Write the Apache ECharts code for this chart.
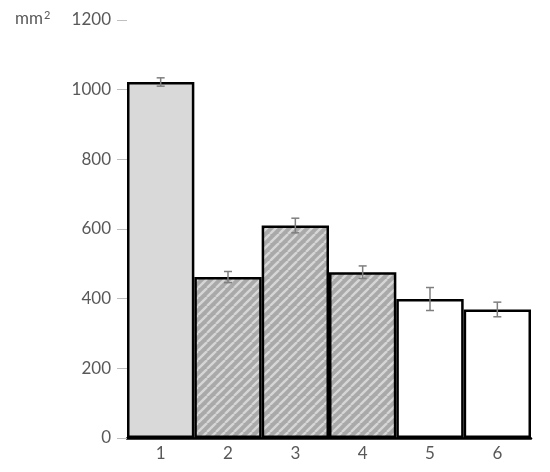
<!DOCTYPE html>
<html>
<head>
<meta charset="utf-8">
<script src="https://cdn.jsdelivr.net/npm/echarts@6/dist/echarts.min.js"></script>
<style>html,body{margin:0;padding:0;background:#fff}#c{width:550px;height:472px}</style>
</head>
<body>
<div id="c"></div>
<script>
const categories = ['1', '2', '3', '4', '5', '6'];
const values = [1022, 462, 610, 476, 399, 369];
const errors = [12, 16, 21, 18, 33, 21];
const fillKinds = ['solid', 'hatch', 'hatch', 'hatch', 'white', 'white'];
const yTicks = [0, 200, 400, 600, 800, 1000, 1200];

function hatchPattern() {
  const s = 9;
  const c = document.createElement('canvas');
  c.width = s; c.height = s;
  const g = c.getContext('2d');
  g.fillStyle = '#a9a9a9';
  g.fillRect(0, 0, s, s);
  g.strokeStyle = '#d6d6d6';
  g.lineWidth = 2.4;
  for (let k = -1; k <= 1; k++) {
    g.beginPath();
    g.moveTo(k * s, s);
    g.lineTo(k * s + s, 0);
    g.stroke();
  }
  return c;
}
const hatch = { image: hatchPattern(), repeat: 'repeat' };
const fills = { solid: '#d9d9d9', hatch: hatch, white: '#ffffff' };

const chart = echarts.init(document.getElementById('c'), null, { renderer: 'canvas' });
const font = 'Lato, "Open Sans", sans-serif';
chart.setOption({
  animation: false,
  grid: { left: 127, right: 19, top: 20, bottom: 34 },
  xAxis: {
    type: 'category',
    data: categories,
    axisLine: { lineStyle: { color: '#000', width: 2.5 } },
    axisTick: { show: false },
    axisLabel: { color: '#595959', fontSize: 17, fontFamily: font, margin: 7 }
  },
  yAxis: {
    type: 'value',
    min: yTicks[0], max: yTicks[yTicks.length - 1], interval: 200,
    axisLine: { show: false },
    axisTick: { show: true, length: 10, lineStyle: { color: '#bfbfbf', width: 1 } },
    splitLine: { show: false },
    axisLabel: { color: '#595959', fontSize: 17, fontFamily: font, margin: 16,
      formatter: v => String(v) }
  },
  graphic: [{
    type: 'text', left: 15, top: 10,
    style: {
      text: 'mm{s|2}', fill: '#595959', fontSize: 17, fontFamily: font,
      rich: { s: { fontSize: 11, fontFamily: font, fill: '#595959', verticalAlign: 'top', padding: [0, 0, 6, 1] } }
    }
  }],
  series: [{
    type: 'bar',
    barCategoryGap: '0%',
    data: values.map((v, i) => ({
      value: v,
      itemStyle: { color: fills[fillKinds[i]], borderColor: '#000', borderWidth: 2.5 }
    }))
  }, {
    type: 'custom',
    data: values.map((v, i) => [i, v, errors[i]]),
    z: 10,
    renderItem: function (params, api) {
      const x = api.value(0), v = api.value(1), e = api.value(2);
      const top = api.coord([x, v + e]);
      const bot = api.coord([x, v - e]);
      const w = 4;
      const st = { stroke: '#7f7f7f', lineWidth: 1.5 };
      return {
        type: 'group',
        children: [
          { type: 'line', shape: { x1: top[0], y1: top[1], x2: bot[0], y2: bot[1] }, style: st },
          { type: 'line', shape: { x1: top[0] - w, y1: top[1], x2: top[0] + w, y2: top[1] }, style: st },
          { type: 'line', shape: { x1: bot[0] - w, y1: bot[1], x2: bot[0] + w, y2: bot[1] }, style: st }
        ]
      };
    }
  }]
});
</script>
</body>
</html>
